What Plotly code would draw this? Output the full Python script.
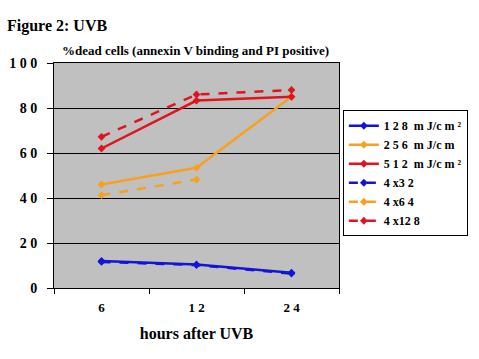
import plotly.graph_objects as go

hours = ["6", "12", "24"]
hour_labels = ["6", "1 2", "2 4"]

series_names = ["1 2 8  m J/c m ²", "2 5 6  m J/c m", "5 1 2  m J/c m ²",
                "4 x3 2", "4 x6 4", "4 x12 8"]
v128 = [12.0, 10.5, 6.8]
v256 = [46.0, 53.4, 85.0]
v512 = [62.0, 83.3, 85.0]
v4x32 = [11.6, 10.2, 6.4]
v4x64 = [41.3, 48.2, None]
v4x128 = [67.2, 86.0, 88.0]

yticks = [0, 20, 40, 60, 80, 100]
ytick_labels = ["0", "2 0", "4 0", "6 0", "8 0", "1 0 0"]

BLUE = "#1414D8"
ORANGE = "#F8A020"
RED = "#E0141E"

SERIF = "Liberation Serif"

fig = go.Figure()
specs = [
    (v128, BLUE, "solid"),
    (v256, ORANGE, "solid"),
    (v512, RED, "solid"),
    (v4x32, BLUE, "dash"),
    (v4x64, ORANGE, "dash"),
    (v4x128, RED, "dash"),
]
for name, (vals, color, dash) in zip(series_names, specs):
    fig.add_trace(go.Scatter(
        x=hours, y=vals, name="<b>" + name + "</b>", mode="lines+markers",
        line=dict(color=color, width=2.5, dash=dash),
        marker=dict(symbol="diamond", size=6, color=color),
    ))

fig.update_layout(
    width=479, height=359,
    margin=dict(l=54, r=139, t=63, b=71),
    paper_bgcolor="white",
    plot_bgcolor="#C0C0C0",
    font=dict(family=SERIF, color="black"),
    showlegend=True,
    legend=dict(
        x=1.01, y=0.79, xanchor="left", yanchor="top",
        bgcolor="white", bordercolor="black", borderwidth=1,
        font=dict(family=SERIF, size=12, color="black"),
        itemwidth=30,
    ),
    xaxis=dict(
        type="category", range=[-0.5, 2.5], automargin=False,
        tickvals=hours, ticktext=["<b>" + t + "</b>" for t in hour_labels],
        tickson="boundaries", ticks="outside", ticklen=5, tickcolor="black",
        showgrid=False, showline=True, linecolor="black", linewidth=1,
        mirror=True, zeroline=False,
        tickfont=dict(family=SERIF, size=13, color="black"),
        ticklabelstandoff=7,
        title=dict(text="<b>hours after UVB</b>",
                   font=dict(family=SERIF, size=16, color="black"), standoff=14),
    ),
    yaxis=dict(
        range=[0, 100], tickvals=yticks, automargin=False,
        ticktext=["<b>" + t + "</b>" for t in ytick_labels],
        ticks="outside", ticklen=6, tickcolor="black",
        showgrid=True, gridcolor="black", gridwidth=1,
        showline=True, linecolor="black", linewidth=1, mirror=True,
        zeroline=False,
        tickfont=dict(family=SERIF, size=14, color="black"),
        ticklabelstandoff=7,
    ),
    annotations=[
        dict(text="<b>Figure 2: UVB</b>", xref="paper", yref="paper",
             x=-49/286, y=1 + 37/225, xanchor="left", yanchor="middle",
             showarrow=False, font=dict(family=SERIF, size=16, color="black")),
        dict(text="<b>%dead cells (annexin V binding and PI positive)</b>",
             xref="paper", yref="paper", x=0.495, y=1 + 13/225,
             xanchor="center", yanchor="middle", showarrow=False,
             font=dict(family=SERIF, size=13, color="black")),
    ],
)

fig.write_html("out.html", config={"displayModeBar": False},
               post_script="document.body.style.margin='0px';")
